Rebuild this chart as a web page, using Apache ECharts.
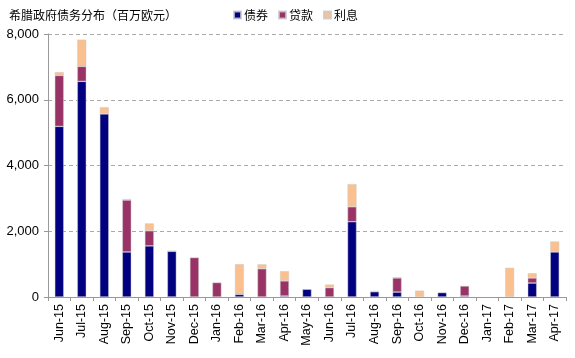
<!DOCTYPE html>
<html><head><meta charset="utf-8">
<script src="https://cdn.jsdelivr.net/npm/echarts@6/dist/echarts.min.js"></script>
<style>html,body{margin:0;padding:0;background:#fff}#c{width:575px;height:358px}</style>
</head><body><div id="c"></div>
<script>
const categories = ['Jun-15','Jul-15','Aug-15','Sep-15','Oct-15','Nov-15','Dec-15','Jan-16','Feb-16','Mar-16','Apr-16','May-16','Jun-16','Jul-16','Aug-16','Sep-16','Oct-16','Nov-16','Dec-16','Jan-17','Feb-17','Mar-17','Apr-17'];
const bonds    = [5190,6560,5570,1370,1555,1390,0,0,80,0,30,235,0,2290,160,150,0,135,30,0,0,425,1370];
const loans    = [1550,455,0,1580,460,10,1200,440,0,860,460,0,285,455,0,430,0,0,305,0,0,155,0];
const interest = [100,815,205,30,225,0,0,0,920,135,295,0,95,690,20,20,195,0,0,0,890,145,320];
const titleText = '希腊政府债务分布（百万欧元）';
const seriesNames = ['债券','贷款','利息'];
const colors = ['#000080','#993366','#FAC090'];

const chart = echarts.init(document.getElementById('c'));
const font = 'Arial, "Liberation Sans", sans-serif';
function mk(name, data, color){
  return {name, type:'bar', stack:'total', data:data.map(v=>v===0?null:v), barWidth:'40%',
    itemStyle:{color, borderColor:'rgba(200,200,200,0.8)', borderWidth:0.6},
    emphasis:{disabled:true}};
}
chart.setOption({
  animation:false,
  title:{text:titleText, left:4, top:4, textStyle:{fontSize:12, fontWeight:'normal', color:'#000', fontFamily:'"Noto Sans CJK SC", sans-serif'}},
  legend:{left:228, top:4, itemWidth:7, itemHeight:7, itemGap:10, icon:'rect',
    textStyle:{fontSize:12, color:'#000', fontFamily:'"Noto Sans CJK SC", sans-serif', padding:[0,0,0,-2]},
    data:seriesNames},
  grid:{left:48, right:9, top:34, bottom:61, containLabel:false},
  xAxis:{type:'category', data:categories,
    axisLine:{lineStyle:{color:'#999'}},
    axisTick:{show:true, alignWithLabel:false, length:4, lineStyle:{color:'#999'}},
    axisLabel:{rotate:90, interval:0, fontSize:12.5, color:'#000', fontFamily:font, margin:7}},
  yAxis:{type:'value', min:0, max:8000, interval:2000,
    axisLine:{show:true, lineStyle:{color:'#999'}},
    axisTick:{show:true, inside:false, length:4, lineStyle:{color:'#999'}},
    axisLabel:{fontSize:13, color:'#000', fontFamily:font, margin:9,
      formatter:v=>v.toLocaleString('en-US')},
    splitLine:{lineStyle:{color:'#aaa', type:[4,3]}}},
  series:[mk(seriesNames[0],bonds,colors[0]), mk(seriesNames[1],loans,colors[1]), mk(seriesNames[2],interest,colors[2])]
});
</script></body></html>
